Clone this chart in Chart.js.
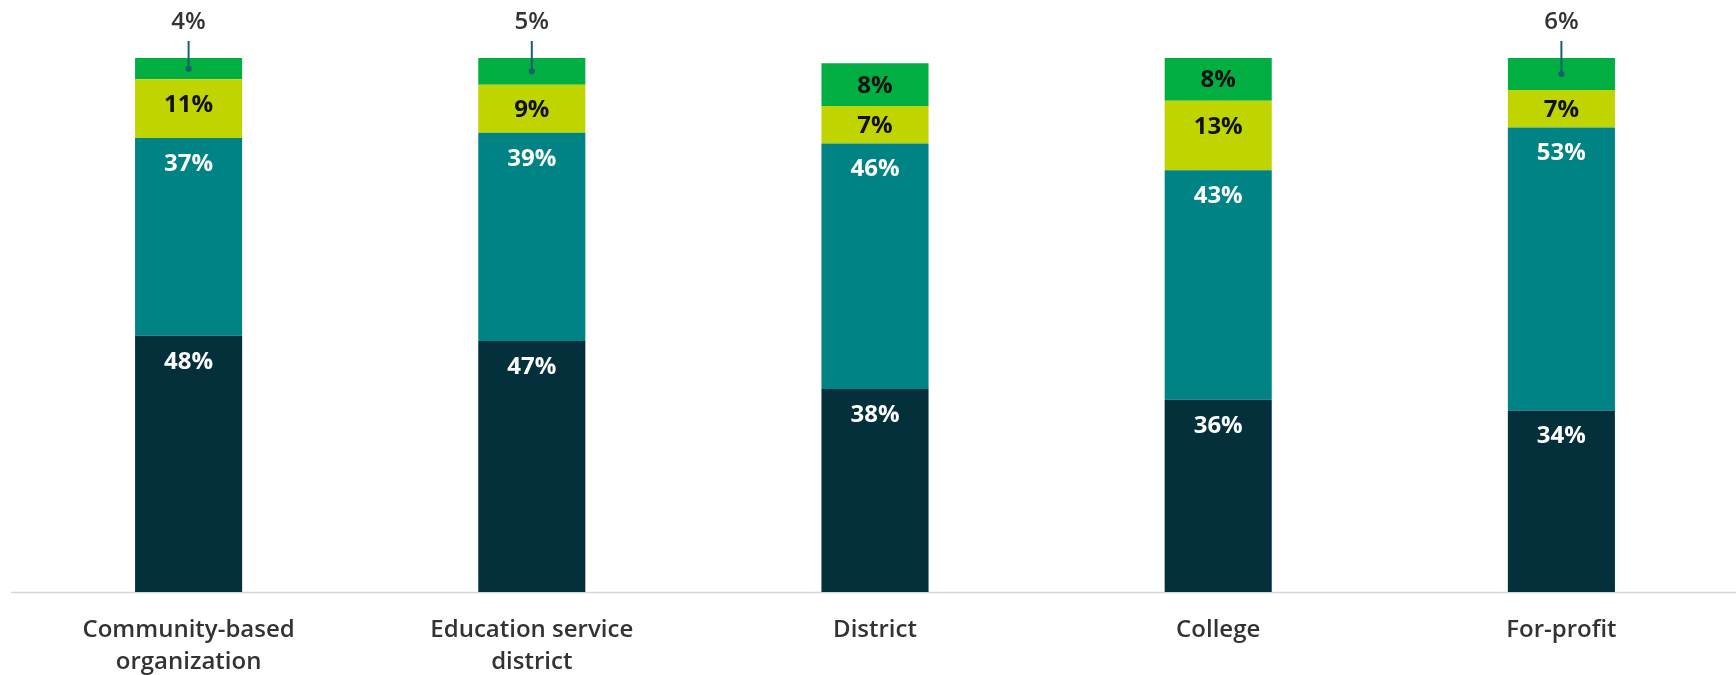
<!DOCTYPE html>
<html>
<head>
<meta charset="utf-8">
<script src="https://cdn.jsdelivr.net/npm/chart.js@4/dist/chart.umd.min.js"></script>
<style>
  html, body { margin: 0; padding: 0; background: #fff; }
  #wrap { width: 1736px; height: 675px; position: relative; }
</style>
</head>
<body>
<div id="wrap"><canvas id="providerChart"></canvas></div>
<script>
const categories = [
    ['Community-based', 'organization'],
    ['Education service', 'district'],
    'District',
    'College',
    'For-profit'
];
// stacked from the bottom up
const darkValues = [48, 47, 38, 36, 34];
const tealValues = [37, 39, 46, 43, 53];
const limeValues = [11, 9, 7, 13, 7];
const greenValues = [4, 5, 8, 8, 6];

const colors = ['#03303b', '#008385', '#c0d400', '#00ae42'];
const labelColors = ['#ffffff', '#ffffff', '#111111', '#111111'];
const FONT = '"Open Sans", Lato, sans-serif';

// segment labels; small top segments get a callout above the bar
const segmentLabels = {
    id: 'segmentLabels',
    afterDatasetsDraw(chart) {
        const ctx = chart.ctx;
        const area = chart.chartArea;
        ctx.save();
        ctx.textAlign = 'center';
        ctx.textBaseline = 'middle';
        chart.data.datasets.forEach((ds, di) => {
            const meta = chart.getDatasetMeta(di);
            meta.data.forEach((bar, i) => {
                const v = ds.data[i];
                const top = Math.min(bar.y, bar.base);
                const h = Math.abs(bar.base - bar.y);
                const text = v + '%';
                if (di === 3 && v < 7) {
                    const cy = top + h / 2;
                    ctx.strokeStyle = '#17606e';
                    ctx.fillStyle = '#17606e';
                    ctx.lineWidth = 2;
                    ctx.beginPath();
                    ctx.moveTo(bar.x, cy);
                    ctx.lineTo(bar.x, area.top - 17);
                    ctx.stroke();
                    ctx.beginPath();
                    ctx.arc(bar.x, cy, 3, 0, Math.PI * 2);
                    ctx.fill();
                    ctx.fillStyle = '#333333';
                    ctx.font = '600 24px ' + FONT;
                    ctx.fillText(text, bar.x, area.top - 36);
                } else {
                    ctx.fillStyle = labelColors[di];
                    ctx.font = 'bold 24px ' + FONT;
                    ctx.fillText(text, bar.x, top + Math.min(h / 2 + 1, 26));
                }
            });
        });
        ctx.restore();
    }
};

// baseline rule running the full width
const baseline = {
    id: 'baseline',
    beforeDatasetsDraw(chart) {
        const ctx = chart.ctx;
        const y = chart.scales.y.getPixelForValue(0);
        ctx.save();
        ctx.strokeStyle = '#d6d6d6';
        ctx.lineWidth = 1.5;
        ctx.beginPath();
        ctx.moveTo(11, y + 0.5);
        ctx.lineTo(chart.width, y + 0.5);
        ctx.stroke();
        ctx.restore();
    }
};

const seriesValues = [darkValues, tealValues, limeValues, greenValues];

new Chart(document.getElementById('providerChart'), {
    type: 'bar',
    data: {
        labels: categories,
        datasets: seriesValues.map((vals, i) => ({
            data: vals,
            backgroundColor: colors[i],
            borderWidth: 0,
            barPercentage: 0.312,
            categoryPercentage: 1
        }))
    },
    options: {
        responsive: true,
        maintainAspectRatio: false,
        animation: false,
        layout: { padding: { top: 58, left: 17, right: 3, bottom: 0 } },
        plugins: {
            legend: { display: false },
            tooltip: { enabled: false }
        },
        scales: {
            x: {
                stacked: true,
                grid: { display: false, drawTicks: false },
                border: { display: false },
                afterFit(scale) { scale.height = 83; },
                ticks: {
                    padding: 22,
                    color: '#333333',
                    font: { family: FONT, size: 24, weight: '600', lineHeight: 1.33 },
                    maxRotation: 0,
                    autoSkip: false
                }
            },
            y: {
                stacked: true,
                display: false,
                min: 0,
                max: 100
            }
        }
    },
    plugins: [baseline, segmentLabels]
});
</script>
</body>
</html>
